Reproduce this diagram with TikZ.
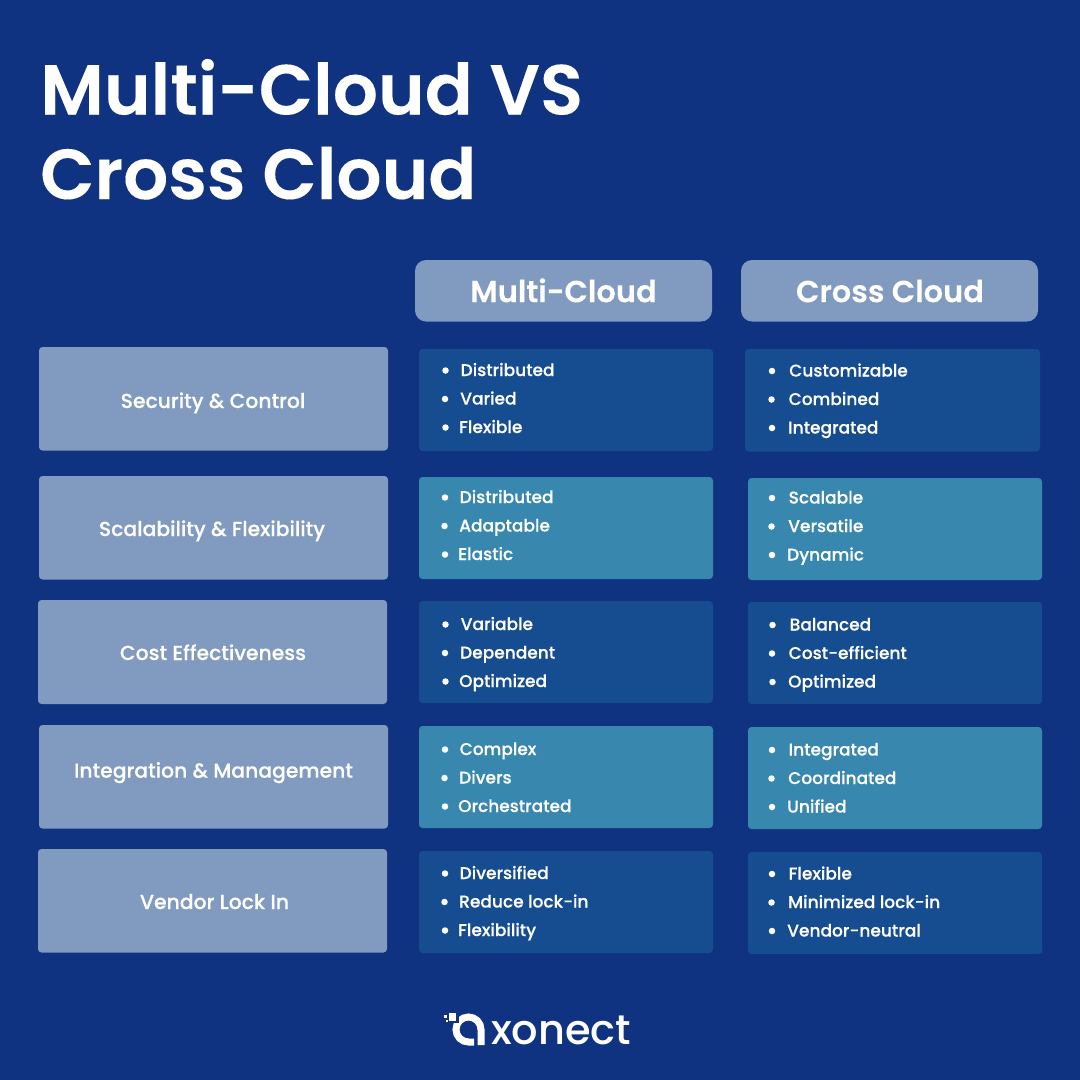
\documentclass[tikz,border=0pt]{standalone}
\usepackage{fontspec}
\setmainfont{Poppins}
\newfontfamily\semib{Poppins SemiBold}[FakeBold=0.12]
\newfontfamily\medi{Poppins Medium}
\newfontfamily\medib{Poppins Medium}[FakeBold=0.25]
\definecolor{bgblue}{HTML}{0F3381}
\definecolor{greybox}{HTML}{819ABF}
\definecolor{darkcell}{HTML}{164C90}
\definecolor{tealcell}{HTML}{3787AE}
\tikzset{
  x=1pt,y=-1pt,
  titletext/.style={anchor=base west,inner sep=0,text=white,font=\semib\fontsize{70.8}{70.8}\selectfont},
  headbox/.style={fill=greybox,rounded corners=11pt,inner sep=0},
  headtext/.style={anchor=base,inner sep=0,text=white,font=\semib\fontsize{30.5}{30.5}\selectfont},
  rowbox/.style={fill=greybox,rounded corners=3.5pt,inner sep=0},
  rowtext/.style={anchor=base,inner sep=0,text=white,font=\medib\fontsize{20.35}{20.35}\selectfont},
  cellbox/.style={rounded corners=3.5pt,inner sep=0},
  itemtext/.style={anchor=base west,inner sep=0,text=white,font=\medib\fontsize{17}{17}\selectfont},
  dotmark/.style={circle,fill=white,inner sep=0,minimum size=6.5pt},
}
% box: name, x0, y0, x1, y1, style
\newcommand{\boxat}[6]{%
  \node[#6,minimum width={(#4-#2)*1pt},minimum height={(#5-#3)*1pt}] (#1) at ({(#2+#4)/2},{(#3+#5)/2}) {};}
% item: name, dot x, text x, baseline y, text
\newcommand{\listitem}[5]{%
  \node[dotmark] (#1d) at (#2,#4-5.5) {};
  \node[itemtext] (#1t) at (#3,#4) {#5};}
\begin{document}
\begin{tikzpicture}
\useasboundingbox (0,0) rectangle (1080,1080);
\fill[bgblue] (0,0) rectangle (1080,1080);
\node[titletext] (t1) at (40,114.5) {Multi-Cloud VS};
\node[titletext] (t2) at (40,199) {Cross Cloud};

\boxat{h1}{415}{260}{712}{321.5}{headbox}
\boxat{h2}{741}{260}{1038}{321.5}{headbox}
\node[headtext] (h1t) at (563.5,302.2) {Multi-Cloud};
\node[headtext] (h2t) at (890,302.2) {Cross Cloud};

\boxat{r1}{39}{347}{388}{450.5}{rowbox}
\boxat{r2}{39}{476}{388}{579.5}{rowbox}
\boxat{r3}{38}{600}{387}{704}{rowbox}
\boxat{r4}{39}{725}{388}{828.5}{rowbox}
\boxat{r5}{38}{849}{387}{952.5}{rowbox}
\node[rowtext] (r1t) at (213,408) {Security \& Control};
\node[rowtext] (r2t) at (212,536) {Scalability \& Flexibility};
\node[rowtext] (r3t) at (213,660) {Cost Effectiveness};
\node[rowtext] (r4t) at (213.5,777.7) {Integration \& Management};
\node[rowtext] (r5t) at (214.5,909) {Vendor Lock In};

\boxat{a1}{419}{349}{713}{451}{cellbox,fill=darkcell}
\boxat{a2}{419}{477}{713}{579}{cellbox,fill=tealcell}
\boxat{a3}{419}{601}{713}{703}{cellbox,fill=darkcell}
\boxat{a4}{419}{726}{713}{828}{cellbox,fill=tealcell}
\boxat{a5}{419}{851}{713}{953}{cellbox,fill=darkcell}
\boxat{b1}{745}{349}{1040}{451.5}{cellbox,fill=darkcell}
\boxat{b2}{748}{478}{1042}{580}{cellbox,fill=tealcell}
\boxat{b3}{748}{602}{1042}{704}{cellbox,fill=darkcell}
\boxat{b4}{748}{727}{1042}{829}{cellbox,fill=tealcell}
\boxat{b5}{748}{852}{1042}{954}{cellbox,fill=darkcell}

\listitem{aa}{445.5}{460.5}{376}{Distributed}
\listitem{ab}{445}{460}{404.5}{Varied}
\listitem{ac}{445.5}{459}{433}{Flexible}
\listitem{ad}{445}{459.5}{503}{Distributed}
\listitem{ae}{444.5}{459}{531.5}{Adaptable}
\listitem{af}{445}{458}{560}{Elastic}
\listitem{ag}{445.5}{460.5}{630}{Variable}
\listitem{ah}{445}{460}{658.5}{Dependent}
\listitem{ai}{445.5}{459}{687}{Optimized}
\listitem{aj}{445}{459.5}{755}{Complex}
\listitem{ak}{444.5}{459}{783.5}{Divers}
\listitem{al}{445}{458}{812}{Orchestrated}
\listitem{am}{445}{459.5}{879}{Diversified}
\listitem{an}{444.5}{459}{907.5}{Reduce lock-in}
\listitem{ao}{445}{458}{936}{Flexibility}

\listitem{ba}{772}{789}{376.5}{Customizable}
\listitem{bb}{771.5}{788.5}{405}{Combined}
\listitem{bc}{772}{788}{433.5}{Integrated}
\listitem{bd}{772}{788.5}{503.5}{Scalable}
\listitem{be}{771.5}{788}{532}{Versatile}
\listitem{bf}{772}{787}{560.5}{Dynamic}
\listitem{bg}{772.5}{789.5}{630.5}{Balanced}
\listitem{bh}{772}{788.5}{659}{Cost-efficient}
\listitem{bi}{772.5}{788}{687.5}{Optimized}
\listitem{bj}{772}{788.5}{755.5}{Integrated}
\listitem{bk}{771.5}{788}{784}{Coordinated}
\listitem{bl}{772}{787}{812.5}{Unified}
\listitem{bm}{772}{788.5}{879.5}{Flexible}
\listitem{bn}{771.5}{788}{908}{Minimized lock-in}
\listitem{bo}{772}{787}{936.5}{Vendor-neutral}

% logo
\node[anchor=base west,inner sep=0,text=white,font=\medi\fontsize{41.5}{41.5}\selectfont] (logo) at (491,1044.5) {xonect};
\draw[white,line width=7pt,line cap=butt] (481,1045) -- (481,1029.5) arc[start angle=0,end angle=-180,radius=12.5] arc[start angle=-180,end angle=-270,radius=12.5] -- (474,1042);
\fill[bgblue] (445,1011) rectangle (458.5,1023);
\fill[white] (448.5,1013) rectangle (456,1020.5);
\fill[white] (443.5,1014.5) rectangle (446.5,1017.5);
\fill[white] (446,1019.5) rectangle (448,1021.5);
\end{tikzpicture}
\end{document}
